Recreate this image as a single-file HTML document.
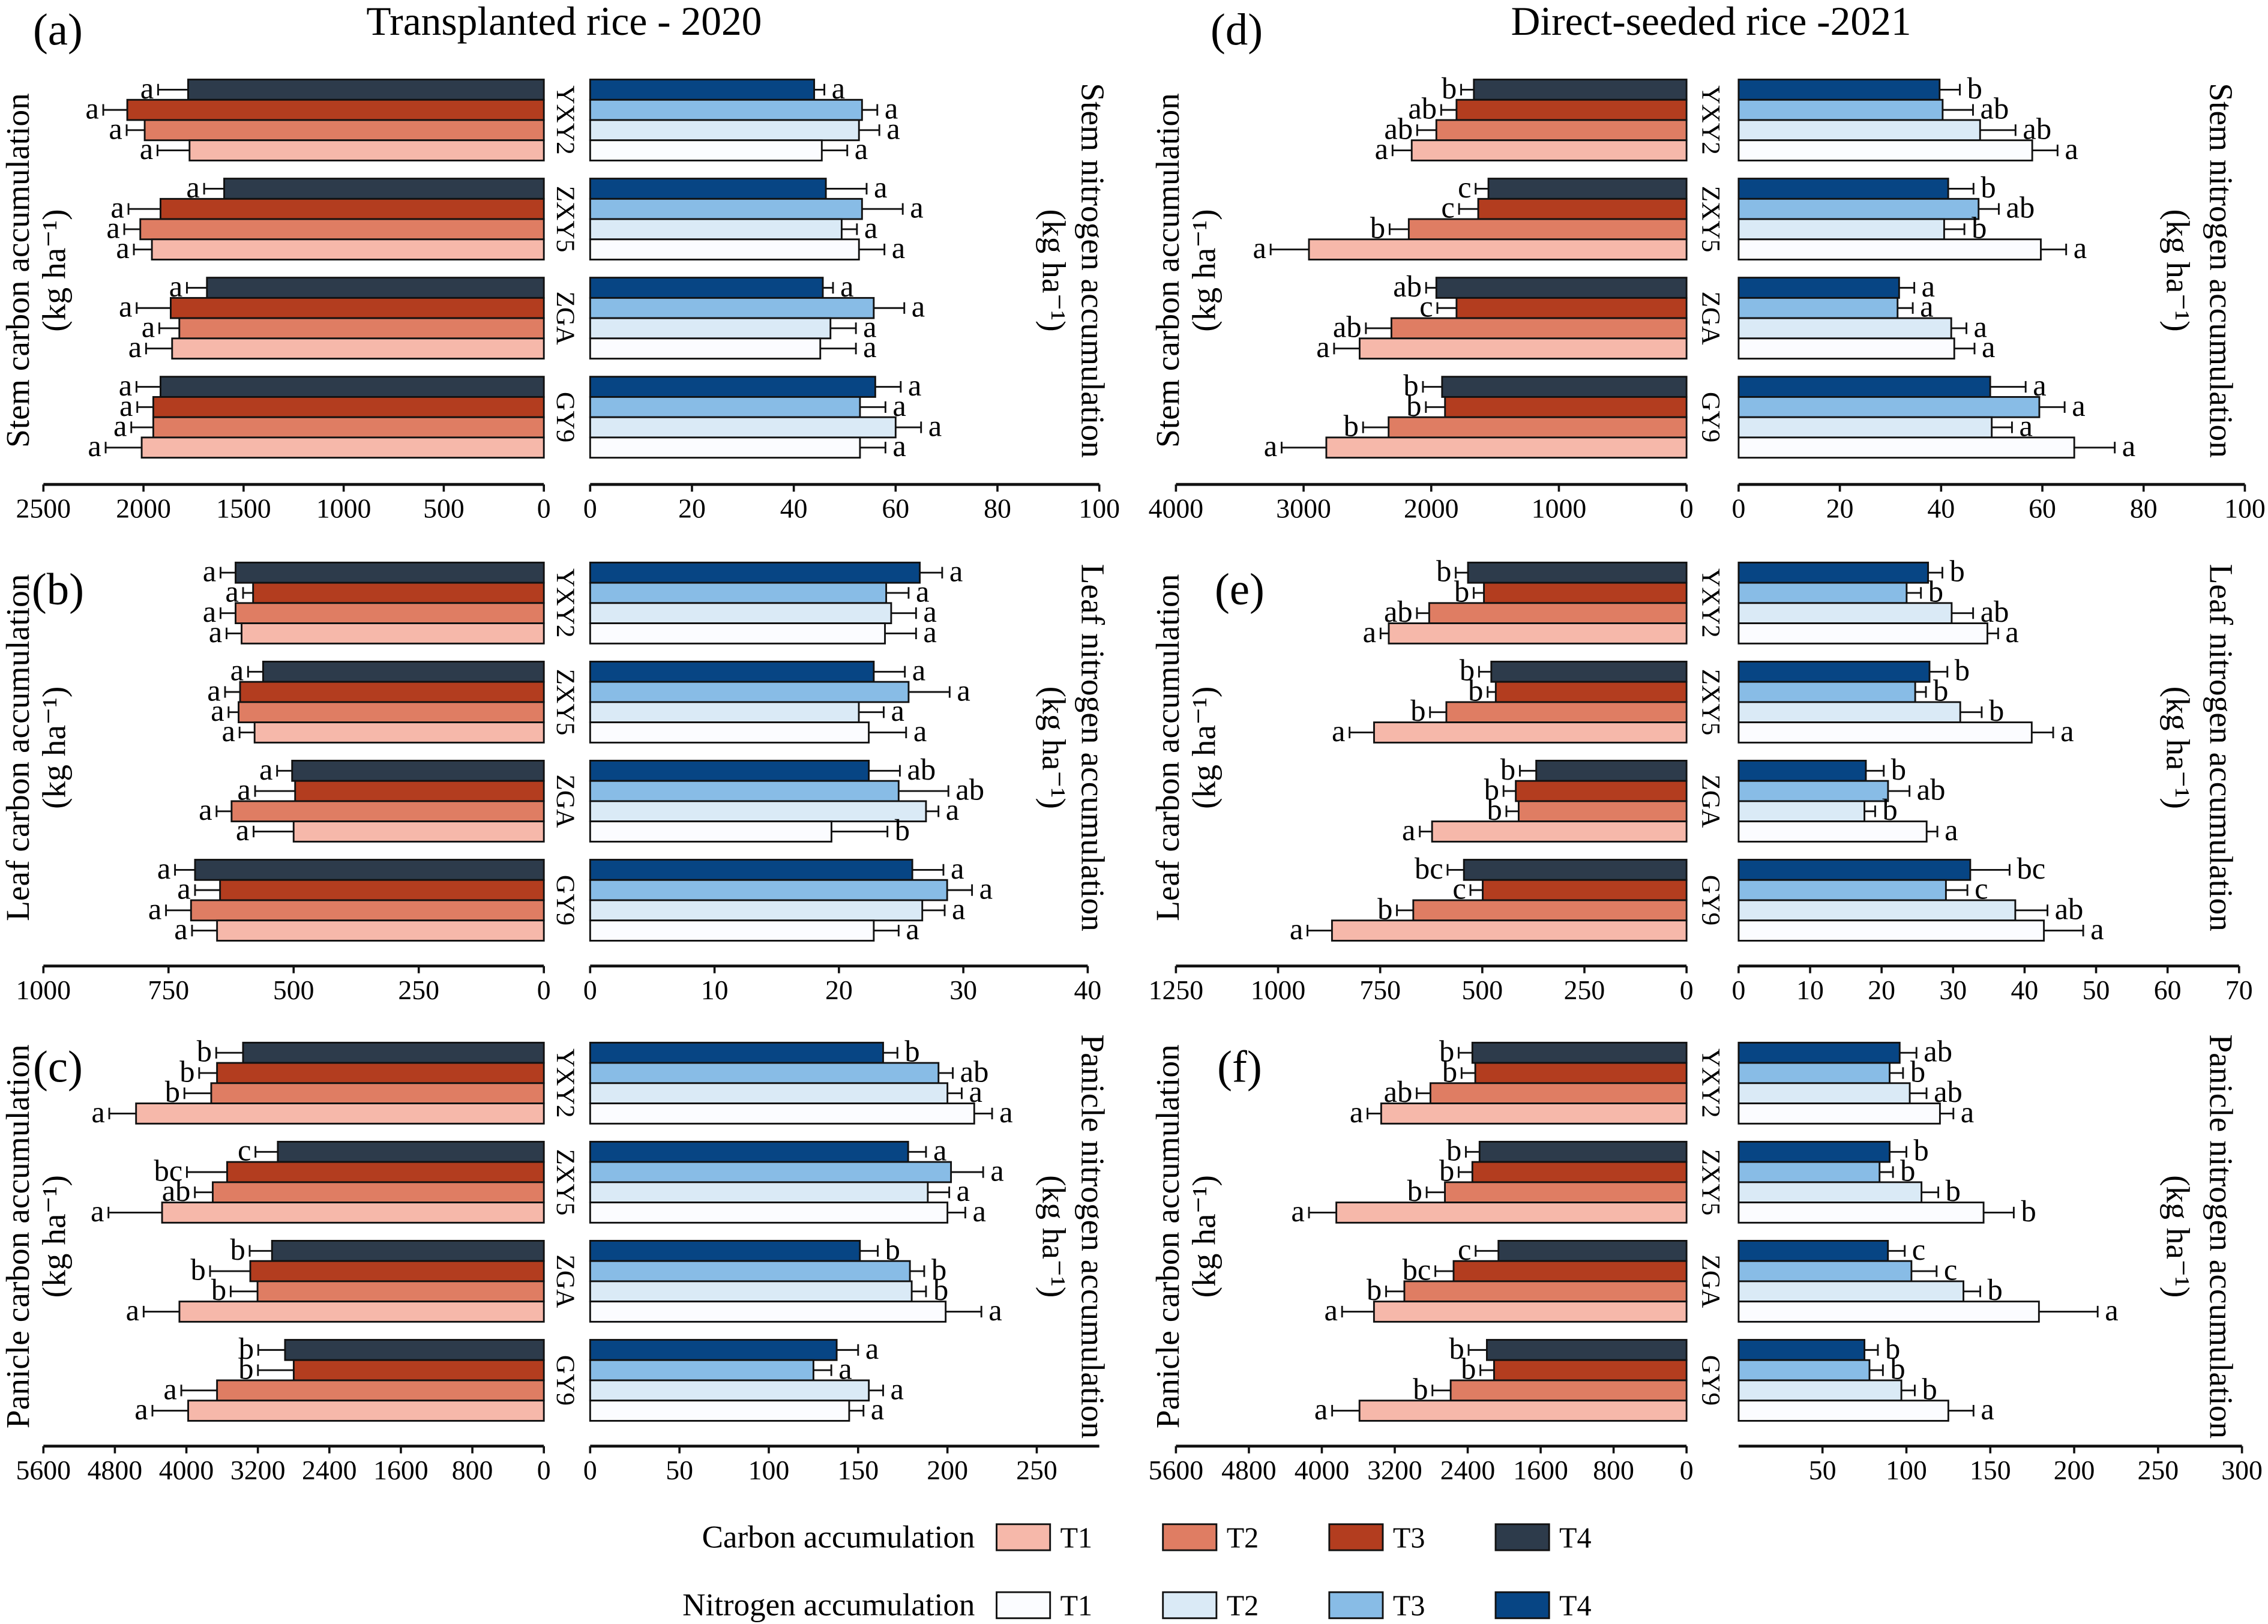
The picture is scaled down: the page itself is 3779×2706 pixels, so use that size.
<!DOCTYPE html>
<html><head><meta charset="utf-8"><style>
html,body{margin:0;padding:0;background:#fff}
svg{display:block;font-family:"Liberation Serif",serif}
text{font-family:"Liberation Serif",serif}
</style></head><body>
<svg id="chart" width="3779" height="2706" viewBox="0 0 1568 1123" preserveAspectRatio="none" xmlns="http://www.w3.org/2000/svg" font-family="Liberation Serif, serif"></svg>
<script>
const varieties = ["YXY2","ZXY5","ZGA","GY9"];
const treatments = ["T4","T3","T2","T1"];
const aCarbon = [[1777,2081,1994,1770],[1597,1915,2016,1958],[1683,1864,1821,1857],[1915,1951,1951,2009]];
const aCarbonErr = [[150,120,90,160],[100,160,80,90],[100,170,100,130],[120,80,110,180]];
const aCarbonLet = [["a","a","a","a"],["a","a","a","a"],["a","a","a","a"],["a","a","a","a"]];
const aNitro = [[44,53.4,52.8,45.5],[46.3,53.4,49.4,52.8],[45.7,55.7,47.2,45.2],[56,53,60,53]];
const aNitroErr = [[2,3,4,5],[8,8,3,5],[2,6,5,7],[5,5,5,5]];
const aNitroLet = [["a","a","a","a"],["a","a","a","a"],["a","a","a","a"],["a","a","a","a"]];
const bCarbon = [[616,581,616,604],[561,607,610,578],[503,497,624,500],[697,647,705,653]];
const bCarbonErr = [[30,20,30,30],[30,30,20,30],[30,80,30,80],[40,50,50,50]];
const bCarbonLet = [["a","a","a","a"],["a","a","a","a"],["a","a","a","a"],["a","a","a","a"]];
const bNitro = [[26.5,23.8,24.2,23.7],[22.8,25.6,21.6,22.4],[22.4,24.8,27,19.4],[25.9,28.7,26.7,22.8]];
const bNitroErr = [[1.8,1.8,2,2.5],[2.5,3.3,2,3],[2.5,4,1,4.5],[2.5,2,1.8,2]];
const bNitroLet = [["a","a","a","a"],["a","a","a","a"],["ab","ab","a","b"],["a","a","a","a"]];
const cCarbon = [[3366,3657,3722,4563],[2977,3544,3705,4272],[3042,3285,3204,4078],[2896,2799,3657,3980]];
const cCarbonErr = [[300,200,300,300],[250,450,200,600],[250,450,300,400],[300,400,400,400]];
const cCarbonLet = [["b","b","b","a"],["c","bc","ab","a"],["b","b","b","a"],["b","b","a","a"]];
const cNitro = [[164,195,200,215],[178,202,189,200],[151,179,180,199],[138,125,156,145]];
const cNitroErr = [[8,8,8,10],[10,18,12,10],[10,8,8,20],[12,10,8,8]];
const cNitroLet = [["b","ab","a","a"],["a","a","a","a"],["b","b","b","a"],["a","a","a","a"]];
const dCarbon = [[1666,1802,1960,2153],[1552,1632,2176,2958],[1960,1802,2312,2561],[1915,1892,2334,2822]];
const dCarbonErr = [[100,120,150,150],[100,150,150,300],[80,150,200,200],[150,150,200,350]];
const dCarbonLet = [["b","ab","ab","a"],["c","c","b","a"],["ab","c","ab","a"],["b","b","b","a"]];
const dNitro = [[39.7,40.3,47.7,58],[41.4,47.4,40.6,59.7],[31.7,31.4,42,42.6],[49.7,59.4,50,66.3]];
const dNitroErr = [[4,6,7,5],[5,4,4,5],[3,3,3,4],[7,5,4,8]];
const dNitroLet = [["b","ab","ab","a"],["b","ab","b","a"],["a","a","a","a"],["a","a","a","a"]];
const eCarbon = [[535,496,630,729],[478,467,588,765],[368,418,411,623],[545,499,669,868]];
const eCarbonErr = [[30,25,30,20],[30,20,40,60],[40,30,30,30],[40,30,40,60]];
const eCarbonLet = [["b","b","ab","a"],["b","b","b","a"],["b","b","b","a"],["bc","c","b","a"]];
const eNitro = [[26.5,23.5,29.8,34.8],[26.7,24.7,31,41],[17.8,20.9,17.6,26.3],[32.4,29,38.7,42.7]];
const eNitroErr = [[2,2,3,1.5],[2.5,1.5,3,3],[2.5,3,1.5,1.5],[5.5,3,4.5,5.5]];
const eNitroLet = [["b","b","ab","a"],["b","b","b","a"],["b","ab","b","a"],["bc","c","ab","a"]];
const fCarbon = [[2349,2317,2809,3349],[2270,2349,2650,3841],[2063,2555,3095,3428],[2190,2111,2587,3587]];
const fCarbonErr = [[150,150,150,150],[150,150,200,300],[250,200,200,350],[200,150,200,300]];
const fCarbonLet = [["b","b","ab","a"],["b","b","b","a"],["c","bc","b","a"],["b","b","b","a"]];
const fNitro = [[96,90,102,120],[90,84,109,146],[89,103,134,179],[75,78,97,125]];
const fNitroErr = [[10,8,10,8],[10,8,10,18],[10,15,10,35],[8,8,8,15]];
const fNitroLet = [["ab","b","ab","a"],["b","b","b","b"],["c","c","b","a"],["b","b","b","a"]];
const aCTicks=[2500,2000,1500,1000,500,0], aNTicks=[0,20,40,60,80,100];
const bCTicks=[1000,750,500,250,0], bNTicks=[0,10,20,30,40];
const cCTicks=[5600,4800,4000,3200,2400,1600,800,0], cNTicks=[0,50,100,150,200,250];
const dCTicks=[4000,3000,2000,1000,0], dNTicks=[0,20,40,60,80,100];
const eCTicks=[1250,1000,750,500,250,0], eNTicks=[0,10,20,30,40,50,60,70];
const fCTicks=[5600,4800,4000,3200,2400,1600,800,0], fNTicks=[50,100,150,200,250,300];

const svg=document.getElementById('chart');
const NS="http://www.w3.org/2000/svg";
const FF="Liberation Serif, serif";
function mk(tag,attrs,parent,text){const e=document.createElementNS(NS,tag);for(const k in attrs)e.setAttribute(k,attrs[k]);if(tag==='text')e.setAttribute('font-family',FF);if(text!==undefined)e.textContent=text;(parent||svg).appendChild(e);return e;}
const cCol={T1:"#f6b8aa",T2:"#df7d63",T3:"#b33d1f",T4:"#2d3b4b"};
const nCol={T1:"#fbfcff",T2:"#daeaf6",T3:"#88bce6",T4:"#074584"};

const panels=[
 {id:"a",C:aCarbon,CE:aCarbonErr,CL:aCarbonLet,N:aNitro,NE:aNitroErr,NL:aNitroLet,ct:aCTicks,nt:aNTicks,c0:376,cE:30,cmax:2500,n0:408,nE:760,nmax:100,top:55,axY:335,catX:392,
  lab:[40,28],tL:["Stem carbon accumulation",13,38,187],tR:["Stem nitrogen accumulation",755,728,187]},
 {id:"b",C:bCarbon,CE:bCarbonErr,CL:bCarbonLet,N:bNitro,NE:bNitroErr,NL:bNitroLet,ct:bCTicks,nt:bNTicks,c0:376,cE:30,cmax:1000,n0:408,nE:752,nmax:40,top:389,axY:668,catX:392,
  lab:[40,415],tL:["Leaf carbon accumulation",13,38,517],tR:["Leaf nitrogen accumulation",755,728,517]},
 {id:"c",C:cCarbon,CE:cCarbonErr,CL:cCarbonLet,N:cNitro,NE:cNitroErr,NL:cNitroLet,ct:cCTicks,nt:cNTicks,c0:376,cE:30,cmax:5600,n0:408,nE:760,nmax:285,top:721,axY:1000,catX:392,
  lab:[40,745],tL:["Panicle carbon accumulation",13,38,855],tR:["Panicle nitrogen accumulation",755,728,855]},
 {id:"d",C:dCarbon,CE:dCarbonErr,CL:dCarbonLet,N:dNitro,NE:dNitroErr,NL:dNitroLet,ct:dCTicks,nt:dNTicks,c0:1166,cE:813,cmax:4000,n0:1202,nE:1552,nmax:100,top:55,axY:335,catX:1184,
  lab:[855,28],tL:["Stem carbon accumulation",808,833,187],tR:["Stem nitrogen accumulation",1535,1505,187]},
 {id:"e",C:eCarbon,CE:eCarbonErr,CL:eCarbonLet,N:eNitro,NE:eNitroErr,NL:eNitroLet,ct:eCTicks,nt:eNTicks,c0:1166,cE:813,cmax:1250,n0:1202,nE:1548,nmax:70,top:389,axY:668,catX:1184,
  lab:[857,415],tL:["Leaf carbon accumulation",808,833,517],tR:["Leaf nitrogen accumulation",1535,1505,517]},
 {id:"f",C:fCarbon,CE:fCarbonErr,CL:fCarbonLet,N:fNitro,NE:fNitroErr,NL:fNitroLet,ct:fCTicks,nt:fNTicks,c0:1166,cE:813,cmax:5600,n0:1202,nE:1550,nmax:300,top:721,axY:1000,catX:1184,
  lab:[857,745],tL:["Panicle carbon accumulation",808,833,855],tR:["Panicle nitrogen accumulation",1535,1505,855]}
];
const groupStep=68.5, barH=14;

panels.forEach(p=>{
  const g=mk('g',{});
  
  
  const cx=v=>p.c0-v*(p.c0-p.cE)/p.cmax;
  const nx=v=>p.n0+v*(p.nE-p.n0)/p.nmax;
  varieties.forEach((vn,gi)=>{
    const gy=p.top+gi*groupStep;
    const cat=mk('text',{x:0,y:0,transform:`translate(${p.catX-7},${gy+28}) rotate(90)`,'text-anchor':'middle','font-size':18},g,vn);
    
    
    treatments.forEach((t,ti)=>{
      const y=gy+ti*barH, cy=y+barH/2;
      const cv=p.C[gi][ti], ce=p.CE[gi][ti];
      const x1=cx(cv);
      const rb=mk('rect',{x:x1,y:y,width:p.c0-x1,height:barH,fill:cCol[t],stroke:'#111','stroke-width':1.2},g);
      
      
      const xe=cx(cv+ce);
      mk('line',{x1:x1,y1:cy,x2:xe,y2:cy,stroke:'#111','stroke-width':1.2},g);
      mk('line',{x1:xe,y1:cy-4,x2:xe,y2:cy+4,stroke:'#111','stroke-width':1.2},g);
      const lt=mk('text',{x:xe-3,y:cy+6,'text-anchor':'end','font-size':21},g,p.CL[gi][ti]);
      
      
      const nv=p.N[gi][ti], ne=p.NE[gi][ti];
      const x2=nx(nv);
      const nb=mk('rect',{x:p.n0,y:y,width:x2-p.n0,height:barH,fill:nCol[t],stroke:'#111','stroke-width':1.2},g);
      
      
      const xn=nx(nv+ne);
      mk('line',{x1:x2,y1:cy,x2:xn,y2:cy,stroke:'#111','stroke-width':1.2},g);
      mk('line',{x1:xn,y1:cy-4,x2:xn,y2:cy+4,stroke:'#111','stroke-width':1.2},g);
      const ln=mk('text',{x:xn+5,y:cy+6,'font-size':21},g,p.NL[gi][ti]);
      
      
    });
  });
  const ca=mk('g',{},g);
  
  
  mk('line',{x1:p.cE,y1:p.axY,x2:p.c0,y2:p.axY,stroke:'#111','stroke-width':2},ca);
  p.ct.forEach(v=>{const x=cx(v);mk('line',{x1:x,y1:p.axY,x2:x,y2:p.axY+5,stroke:'#111','stroke-width':1.5},ca);
    mk('text',{x:x,y:p.axY+23,'text-anchor':'middle','font-size':19},ca,String(v));});
  const na=mk('g',{},g);
  
  
  mk('line',{x1:p.n0,y1:p.axY,x2:p.nE,y2:p.axY,stroke:'#111','stroke-width':2},na);
  p.nt.forEach(v=>{const x=nx(v);mk('line',{x1:x,y1:p.axY,x2:x,y2:p.axY+5,stroke:'#111','stroke-width':1.5},na);
    mk('text',{x:x,y:p.axY+23,'text-anchor':'middle','font-size':19},na,String(v));});
  const pl=mk('text',{x:p.lab[0],y:p.lab[1]+3,'text-anchor':'middle','font-size':31},g,'('+p.id+')');
  
  
  const tl=mk('text',{transform:`translate(${p.tL[1]+7},${p.tL[3]}) rotate(-90)`,'text-anchor':'middle','font-size':23},g,p.tL[0]);
  
  
  const tl2=mk('text',{transform:`translate(${p.tL[2]+7},${p.tL[3]}) rotate(-90)`,'text-anchor':'middle','font-size':23},g,'(kg ha\u207B\u00B9)');
  
  
  const tr=mk('text',{transform:`translate(${p.tR[1]-7},${p.tR[3]}) rotate(90)`,'text-anchor':'middle','font-size':23},g,p.tR[0]);
  
  
  const tr2=mk('text',{transform:`translate(${p.tR[2]-7},${p.tR[3]}) rotate(90)`,'text-anchor':'middle','font-size':23},g,'(kg ha\u207B\u00B9)');
  
  
});
const t1=mk('text',{x:390,y:24,'text-anchor':'middle','font-size':28},svg,'Transplanted rice - 2020');


const t2=mk('text',{x:1183,y:24,'text-anchor':'middle','font-size':28},svg,'Direct-seeded rice -2021');


const legend=mk('g',{});


const rows=[["Carbon accumulation",1063,cCol],["Nitrogen accumulation",1110,nCol]];
const legX=[689,804,919,1034];
rows.forEach(r=>{
  mk('text',{x:674,y:r[1]+7,'text-anchor':'end','font-size':22},legend,r[0]);
  ["T1","T2","T3","T4"].forEach((t,i)=>{
    const e=mk('g',{},legend);
    
    
    mk('rect',{x:legX[i],y:r[1]-9,width:37,height:18,fill:r[2][t],stroke:'#111','stroke-width':1.2},e);
    mk('text',{x:legX[i]+44,y:r[1]+7,'font-size':20},e,t);
  });
});
</script>
</body></html>
